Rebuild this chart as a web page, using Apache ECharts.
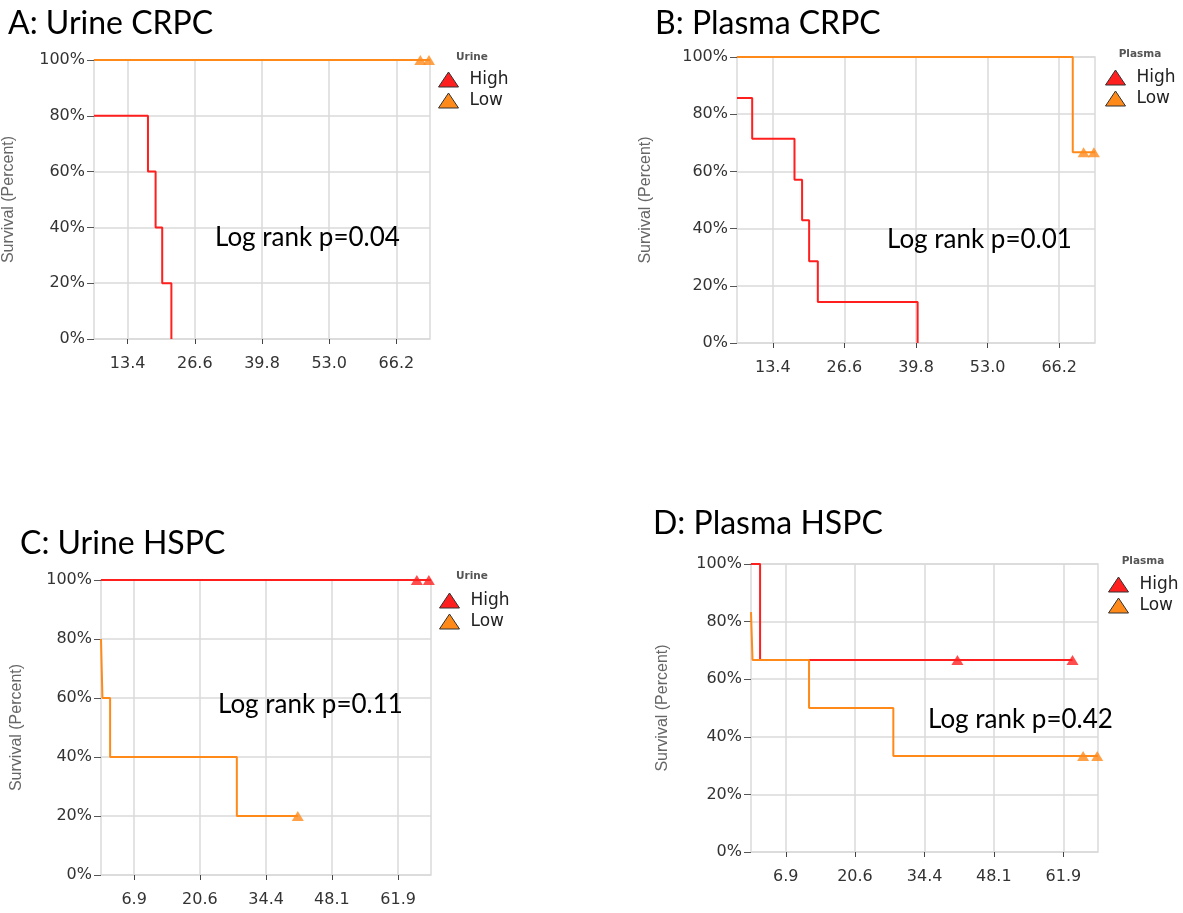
<!DOCTYPE html>
<html>
<head>
<meta charset="utf-8">
<title>Survival curves</title>
<script src="https://cdn.jsdelivr.net/npm/echarts@6/dist/echarts.min.js"></script>
<style>
  html, body { margin: 0; padding: 0; background: #fff; }
  #chart { width: 1183px; height: 913px; }
</style>
</head>
<body>
<div id="chart"></div>
<script>
// x axis tick labels (months)
const ticksCRPC = [13.4, 26.6, 39.8, 53.0, 66.2];
const ticksHSPC = [6.9, 20.6, 34.4, 48.1, 61.9];
const groups = ["High", "Low"];

// A: Urine CRPC  [time, survival %]
const urineCrpcHigh = [[6.8, 80], [17.4, 60], [18.9, 40], [20.2, 20], [22.0, 0]];
const urineCrpcHighCens = [];
const urineCrpcLow = [[6.8, 100], [72.8, 100]];
const urineCrpcLowCens = [[70.9, 100], [72.6, 100]];

// B: Plasma CRPC
const plasmaCrpcHigh = [[6.8, 85.7], [9.6, 71.4], [17.4, 57.1], [18.8, 42.9], [20.1, 28.6], [21.7, 14.3], [40.1, 0]];
const plasmaCrpcHighCens = [];
const plasmaCrpcLow = [[6.8, 100], [68.7, 66.7], [72.8, 66.7]];
const plasmaCrpcLowCens = [[70.7, 66.7], [72.6, 66.7]];

// C: Urine HSPC
const urineHspcHigh = [[0, 100], [68.75, 100]];
const urineHspcHighCens = [[65.8, 100], [68.3, 100]];
const urineHspcLow = [[0, 80], [0.3, 60], [1.9, 40], [28.3, 20], [41.0, 20]];
const urineHspcLowCens = [[41.0, 20]];

// D: Plasma HSPC
const plasmaHspcHigh = [[0, 100], [1.8, 66.7], [63.7, 66.7]];
const plasmaHspcHighCens = [[40.9, 66.7], [63.7, 66.7]];
const plasmaHspcLow = [[0, 83.3], [0.3, 66.7], [11.5, 50], [28.2, 33.3], [68.75, 33.3]];
const plasmaHspcLowCens = [[65.8, 33.3], [68.6, 33.3]];

const RED = "#ff1f1f";
const ORANGE = "#ff8a1a";
const GRID = "#dadada";

const panels = [
  { title: "A: Urine CRPC", fluid: "Urine", pval: "Log rank p=0.04",
    grid: { left: 92, top: 60, width: 338, height: 279 }, nameGap: 77,
    min: 6.8, max: 72.8, ticks: ticksCRPC,
    high: urineCrpcHigh, highCens: urineCrpcHighCens, low: urineCrpcLow, lowCens: urineCrpcLowCens,
    titlePos: [8, 8], pPos: [215, 225], legendPos: [438, 71], headPos: [472, 57] },
  { title: "B: Plasma CRPC", fluid: "Plasma", pval: "Log rank p=0.01",
    grid: { left: 737, top: 57, width: 358, height: 286 }, nameGap: 83,
    min: 6.8, max: 72.8, ticks: ticksCRPC,
    high: plasmaCrpcHigh, highCens: plasmaCrpcHighCens, low: plasmaCrpcLow, lowCens: plasmaCrpcLowCens,
    titlePos: [655, 8], pPos: [887, 227], legendPos: [1105, 69], headPos: [1140, 54] },
  { title: "C: Urine HSPC", fluid: "Urine", pval: "Log rank p=0.11",
    grid: { left: 101, top: 580, width: 330, height: 295 }, nameGap: 76,
    min: 0, max: 68.75, ticks: ticksHSPC,
    high: urineHspcHigh, highCens: urineHspcHighCens, low: urineHspcLow, lowCens: urineHspcLowCens,
    titlePos: [20, 528], pPos: [218, 692], legendPos: [439, 592], headPos: [472, 576] },
  { title: "D: Plasma HSPC", fluid: "Plasma", pval: "Log rank p=0.42",
    grid: { left: 751, top: 564, width: 347, height: 288 }, nameGap: 80,
    min: 0, max: 68.75, ticks: ticksHSPC,
    high: plasmaHspcHigh, highCens: plasmaHspcHighCens, low: plasmaHspcLow, lowCens: plasmaHspcLowCens,
    titlePos: [653, 508], pPos: [928, 707], legendPos: [1108, 576], headPos: [1143, 561] }
];

const grids = [], xAxes = [], yAxes = [], series = [], legends = [], texts = [];

panels.forEach((p, i) => {
  grids.push(Object.assign({ show: true, borderColor: GRID, borderWidth: 1.5, backgroundColor: "transparent" }, p.grid));

  xAxes.push({
    type: "value", gridIndex: i, min: p.min, max: p.max, offset: 14,
    axisLine: { show: false },
    axisTick: { show: true, customValues: p.ticks, length: 5, lineStyle: { color: "#444", width: 1 } },
    axisLabel: { customValues: p.ticks, margin: 3, color: "#333", fontSize: 16, fontFamily: "DejaVu Sans",
      formatter: v => v.toFixed(1) },
    splitLine: { show: true, lineStyle: { color: GRID, width: 1.5 } }
  });

  yAxes.push({
    type: "value", gridIndex: i, min: 0, max: 100, interval: 20,
    name: "Survival (Percent)", nameLocation: "middle", nameGap: p.nameGap,
    nameTextStyle: { color: "#666", fontSize: 16, fontFamily: "Liberation Sans" },
    axisLine: { show: false },
    axisTick: { show: true, length: 7, lineStyle: { color: "#555", width: 1 } },
    axisLabel: { margin: 9, color: "#333", fontSize: 16, fontFamily: "DejaVu Sans", formatter: "{value}%" },
    splitLine: { show: true, lineStyle: { color: GRID, width: 1.5 } }
  });

  const line = (name, color, data) => ({
    name, type: "line", step: "end", xAxisIndex: i, yAxisIndex: i, data,
    showSymbol: false, color, lineStyle: { width: 2, color }, clip: true, silent: true
  });
  const cens = (name, color, data) => ({
    name, type: "scatter", xAxisIndex: i, yAxisIndex: i, data,
    symbol: "triangle", symbolSize: [12, 10], color, itemStyle: { color }, z: 3, silent: true
  });
  series.push(line("High", RED, p.high), cens("High", RED, p.highCens),
              line("Low", ORANGE, p.low), cens("Low", ORANGE, p.lowCens));

  legends.push({
    data: groups, orient: "vertical", left: p.legendPos[0], top: p.legendPos[1], padding: 0,
    icon: "triangle", itemWidth: 20, itemHeight: 15, itemGap: 4,
    itemStyle: { borderColor: "#333", borderWidth: 1 },
    textStyle: { fontSize: 17, color: "#222", fontFamily: "DejaVu Sans", padding: [0, 0, 0, 6] },
    selectedMode: false
  });

  texts.push(
    { type: "text", x: p.titlePos[0], y: p.titlePos[1], z: 10,
      style: { text: p.title, fontSize: 32, fontFamily: "Lato", fill: "#000", verticalAlign: "top" } },
    { type: "text", x: p.pPos[0], y: p.pPos[1], z: 10,
      style: { text: p.pval, fontSize: 26, fontFamily: "Lato", fill: "#000", verticalAlign: "top" } },
    { type: "text", x: p.headPos[0], y: p.headPos[1], z: 10,
      style: { text: p.fluid, fontSize: 10.5, fontWeight: "bold", fontFamily: "DejaVu Sans", fill: "#555",
        align: "center", verticalAlign: "middle" } }
  );
});

const chart = echarts.init(document.getElementById("chart"));
chart.setOption({
  animation: false,
  backgroundColor: "#fff",
  grid: grids,
  xAxis: xAxes,
  yAxis: yAxes,
  legend: legends,
  series: series,
  graphic: texts
});
</script>
</body>
</html>
